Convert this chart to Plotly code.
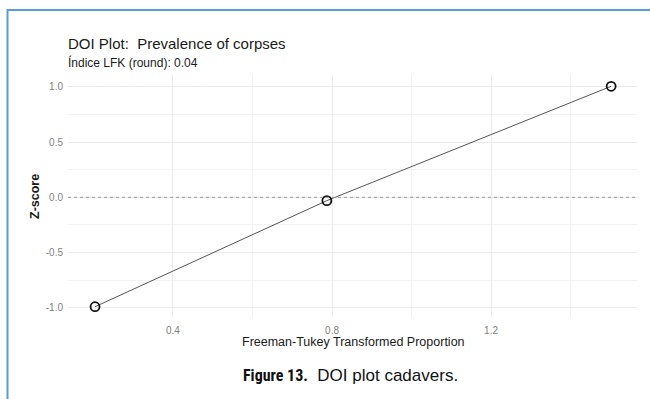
import plotly.graph_objects as go

# Data
ft_proportion = [0.204, 0.787, 1.502]
z_score = [-0.989, -0.030, 1.004]
x_ticks = [0.4, 0.8, 1.2]
y_ticks = [-1.0, -0.5, 0.0, 0.5, 1.0]

W, H = 650, 399
L, R, T, B = 68, 637, 75, 317  # plot area in pixels

def px(x):
    return (x - L) / (R - L)

def py(y):
    return (B - y) / (B - T)

fig = go.Figure()
fig.add_trace(go.Scatter(
    x=ft_proportion, y=z_score, mode="lines+markers",
    line=dict(color="#555555", width=1),
    marker=dict(symbol="circle-open", size=9, color="#111111", line=dict(width=1.8, color="#111111")),
    showlegend=False, hoverinfo="x+y",
))

fig.add_hline(y=0, line=dict(color="#999999", width=1, dash="3px,3px"))

font = "Liberation Sans, Arial, sans-serif"
grid = "#ebebeb"

fig.update_layout(
    width=W, height=H,
    margin=dict(l=L, r=W - R, t=T, b=H - B, pad=0),
    paper_bgcolor="white", plot_bgcolor="white",
    font=dict(family=font, color="#4d4d4d"),
    xaxis=dict(
        range=[0.136, 1.567], tickvals=x_ticks, ticktext=[f"{v:.1f}" for v in x_ticks],
        showgrid=True, gridcolor=grid, gridwidth=1, zeroline=False, showline=False,
        ticks="", tickfont=dict(size=10, color="#7f7f7f"), ticklabelstandoff=6,
        minor=dict(tickvals=[0.6, 1.0, 1.4], showgrid=True, gridcolor="#f2f2f2", gridwidth=1),
    ),
    yaxis=dict(
        range=[-1.082, 1.106], tickvals=y_ticks, ticktext=[f"{v:.1f}" for v in y_ticks],
        showgrid=True, gridcolor=grid, gridwidth=1, zeroline=False, showline=False,
        ticks="", tickfont=dict(size=10, color="#7f7f7f"), ticklabelstandoff=4,
        minor=dict(tickvals=[-0.75, -0.25, 0.25, 0.75], showgrid=True, gridcolor="#f2f2f2", gridwidth=1),
    ),
    showlegend=False,
)

caption = ("<span style='font-family:Liberation Sans Narrow, Roboto Condensed, sans-serif;font-size:16px'><b>Figure 13.</b></span>"
           "\u00a0\u00a0DOI plot cadavers.")

annotations = [
    dict(text="DOI Plot:\u00a0\u00a0Prevalence of corpses", x=px(66), y=py(43), xanchor="left", yanchor="middle",
         font=dict(size=15, color="#1a1a1a", family=font)),
    dict(text="Índice LFK (round): 0.04", x=px(66), y=py(62), xanchor="left", yanchor="middle",
         font=dict(size=12, color="#1a1a1a", family=font)),
    dict(text="Freeman-Tukey Transformed Proportion", x=px(353), y=py(342), xanchor="center", yanchor="middle",
         font=dict(size=12.5, color="#1a1a1a", family=font)),
    dict(text="<b>Z-score</b>", x=px(35), y=py(197), xanchor="center", yanchor="middle", textangle=-90,
         font=dict(size=12.5, color="#1a1a1a", family=font)),
    dict(text=caption, x=px(350), y=py(375), xanchor="center", yanchor="middle",
         font=dict(size=17, color="#111111", family="Liberation Sans, Arial, sans-serif")),
]
for a in annotations:
    a.update(xref="paper", yref="paper", showarrow=False)
fig.update_layout(annotations=annotations)

# figure frame (blue border top and left)
blue = "#5b9bd5"
fig.add_shape(type="line", xref="paper", yref="paper", x0=px(7.5), x1=px(651), y0=py(10), y1=py(10),
              line=dict(color=blue, width=2))
fig.add_shape(type="line", xref="paper", yref="paper", x0=px(7.5), x1=px(7.5), y0=py(9), y1=py(400),
              line=dict(color=blue, width=2))

fig.write_html("out.html")
